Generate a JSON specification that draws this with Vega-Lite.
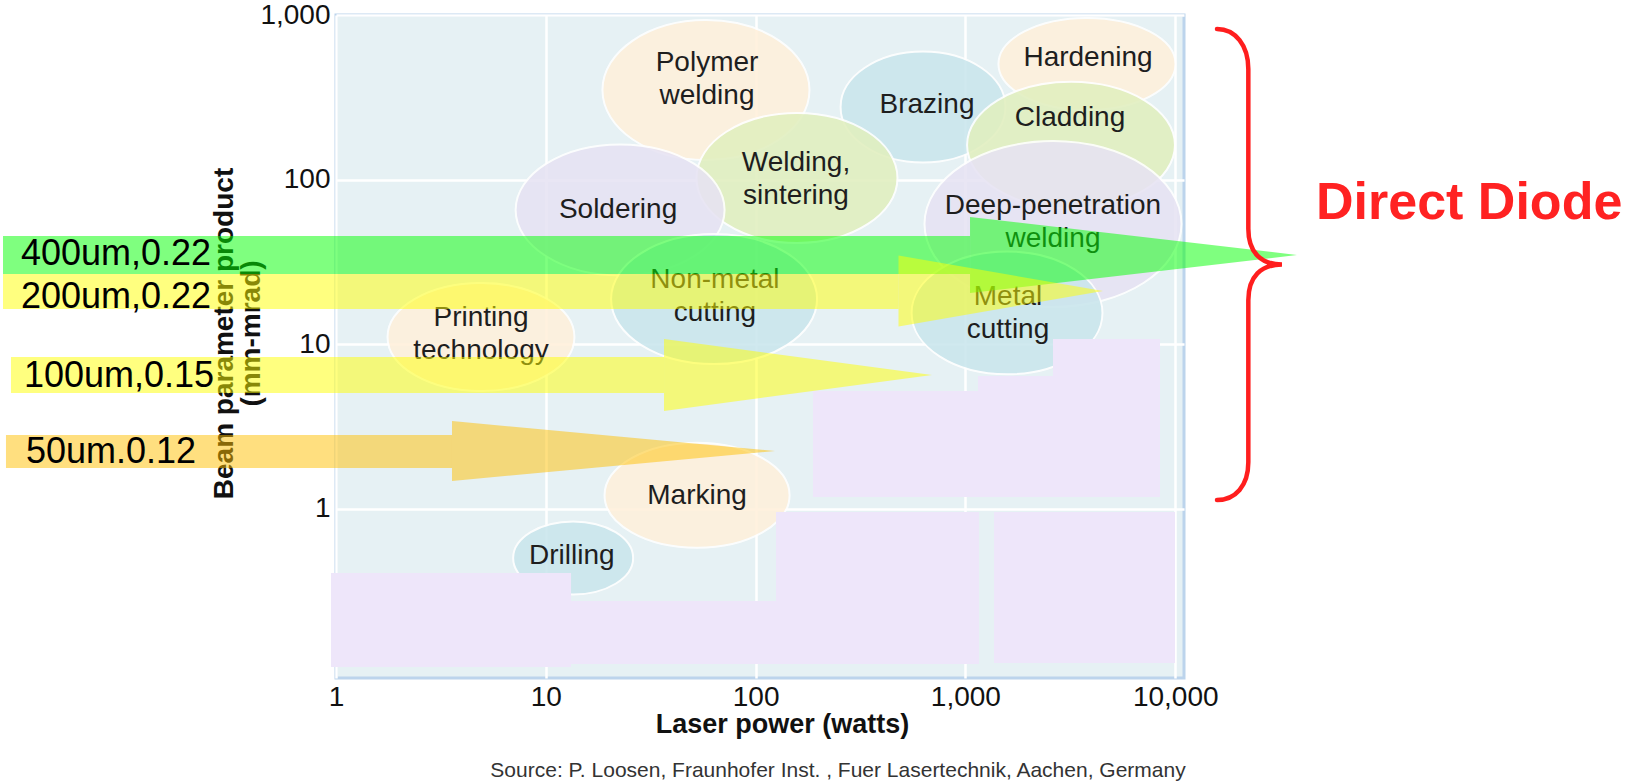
{
  "$schema": "https://vega.github.io/schema/vega-lite/v6.json",
  "width": 848,
  "height": 663,
  "autosize": {"type": "none"},
  "padding": {"left": 336, "top": 15, "right": 449, "bottom": 106},
  "background": "white",
  "config": {
    "font": "Liberation Sans",
    "view": {"fill": "#e6f1f4", "stroke": "#bcd4ec", "strokeWidth": 3},
    "axis": {
      "grid": true, "gridColor": "#ffffff", "gridWidth": 2.5, "gridOpacity": 1,
      "ticks": false, "domain": false,
      "labelFont": "Liberation Sans", "labelFontSize": 28, "labelColor": "#111111",
      "titleFont": "Liberation Sans", "titleColor": "#111111",
      "labelOverlap": false, "labelFlush": false
    }
  },
  "title": {
    "text": "Source: P. Loosen, Fraunhofer Inst. , Fuer Lasertechnik, Aachen, Germany",
    "orient": "bottom", "anchor": "middle", "dx": 78, "offset": 23,
    "fontSize": 21, "fontWeight": "normal", "color": "#333333", "font": "Liberation Sans"
  },
  "resolve": {"scale": {"color": "independent", "fill": "independent", "shape": "independent"}},
  "datasets": {
    "regions": [
      {"app": "Polymer welding", "tone": "peach", "power": 58.0, "bpp": 350, "span": 0.987},
      {"app": "Brazing", "tone": "blue", "power": 628, "bpp": 276, "span": 0.786},
      {"app": "Hardening", "tone": "peach", "power": 3798, "bpp": 504, "span": 0.844},
      {"app": "Cladding", "tone": "green", "power": 3187, "bpp": 162, "span": 0.991},
      {"app": "Welding, sintering", "tone": "green", "power": 157.5, "bpp": 102.3, "span": 0.958},
      {"app": "Soldering", "tone": "lavender", "power": 22.6, "bpp": 65.4, "span": 0.996},
      {"app": "Deep-penetration welding", "tone": "lavender", "power": 2615, "bpp": 53.7, "span": 1.225},
      {"app": "Non-metal cutting", "tone": "blue", "power": 63.4, "bpp": 18.8, "span": 0.982},
      {"app": "Metal cutting", "tone": "blue", "power": 1579, "bpp": 15.5, "span": 0.910},
      {"app": "Printing technology", "tone": "peach", "power": 4.91, "bpp": 11.06, "span": 0.891},
      {"app": "Marking", "tone": "peach", "power": 52.6, "bpp": 1.21, "span": 0.882},
      {"app": "Drilling", "tone": "blue", "power": 13.5, "bpp": 0.503, "span": 0.572}
    ],
    "regionLabels": [
      {"label": "Polymer\nwelding", "power": 58.66, "bpp": 510.9},
      {"label": "Brazing", "power": 656, "bpp": 282},
      {"label": "Hardening", "power": 3841, "bpp": 548},
      {"label": "Cladding", "power": 3152, "bpp": 237},
      {"label": "Welding,\nsintering", "power": 155.8, "bpp": 126.2},
      {"label": "Soldering", "power": 22.1, "bpp": 65.5},
      {"label": "Deep-penetration\nwelding", "power": 2615, "bpp": 69.6},
      {"label": "Non-metal\ncutting", "power": 64.0, "bpp": 24.55},
      {"label": "Metal\ncutting", "power": 1596, "bpp": 19.35},
      {"label": "Printing\ntechnology", "power": 4.91, "bpp": 14.53},
      {"label": "Marking", "power": 52.6, "bpp": 1.19},
      {"label": "Drilling", "power": 13.3, "bpp": 0.517}
    ],
    "boxes": [
      {"power": 2615, "power2": 8463, "bpp": 6.41, "bpp2": 10.76},
      {"power": 1148, "power2": 8463, "bpp": 5.20, "bpp2": 6.41},
      {"power": 187.7, "power2": 8463, "bpp": 1.18, "bpp2": 5.20},
      {"power": 0.947, "power2": 13.19, "bpp": 0.1094, "bpp2": 0.407},
      {"power": 13.19, "power2": 1161, "bpp": 0.114, "bpp2": 0.2754},
      {"power": 125.1, "power2": 1161, "bpp": 0.1156, "bpp2": 0.956},
      {"power": 1369, "power2": 9980, "bpp": 0.1156, "bpp2": 0.956}
    ],
    "shafts": [
      {"arrow": "400um", "power": 0.02587, "power2": 1051.7, "bpp": 45.42, "bpp2": 26.70},
      {"arrow": "200um", "power": 0.02587, "power2": 479.8, "bpp": 26.70, "bpp2": 16.37},
      {"arrow": "100um", "power": 0.02824, "power2": 36.60, "bpp": 8.36, "bpp2": 5.05},
      {"arrow": "50um", "power": 0.02673, "power2": 3.572, "bpp": 2.808, "bpp2": 1.770}
    ],
    "heads": [
      {"arrow": "400um", "power": 6329, "bpp": 34.83, "span": 1.5586},
      {"arrow": "200um", "power": 1474, "bpp": 21.05, "span": 0.9747},
      {"arrow": "100um", "power": 159.3, "bpp": 6.50, "span": 1.2774},
      {"arrow": "50um", "power": 21.02, "bpp": 2.245, "span": 1.5395}
    ],
    "arrowLabels": [
      {"label": "400um,0.22", "power": 0.03151, "bpp": 30.28},
      {"label": "200um,0.22", "power": 0.03151, "bpp": 16.60},
      {"label": "100um,0.15", "power": 0.03257, "bpp": 5.495},
      {"label": "50um.0.12", "power": 0.03330, "bpp": 1.898}
    ]
  },
  "encoding": {
    "x": {
      "field": "power", "type": "quantitative",
      "scale": {"type": "log", "domain": [1, 11013], "nice": false},
      "axis": {
        "values": [1, 10, 100, 1000, 10000], "format": ",", "labelPadding": 5,
        "title": "Laser power (watts)", "titleFontSize": 27, "titleFontWeight": "bold",
        "titleX": 446, "titleY": 54, "titleBaseline": "alphabetic"
      }
    },
    "y": {
      "field": "bpp", "type": "quantitative",
      "scale": {"type": "log", "domain": [0.0938, 1000], "nice": false},
      "axis": {
        "values": [1, 10, 100, 1000], "format": ",", "labelPadding": 6,
        "title": ["Beam parameter product", "(mm-mrad)"], "titleFontSize": 28, "titleFontWeight": "bold",
        "titleX": -104, "titleY": 318, "titleBaseline": "alphabetic", "titleLineHeight": 27,
        "titleAngle": -90, "titleAlign": "center"
      }
    }
  },
  "layer": [
    {
      "data": {"name": "regions"},
      "mark": {"type": "point", "filled": true, "opacity": 0.88, "stroke": "#ffffff", "strokeWidth": 2},
      "encoding": {
        "shape": {
          "field": "app", "type": "nominal", "legend": null,
          "scale": {
            "domain": ["Polymer welding", "Brazing", "Hardening", "Cladding", "Welding, sintering", "Soldering", "Deep-penetration welding", "Non-metal cutting", "Metal cutting", "Printing technology", "Marking", "Drilling"],
            "range": [
              "M-1,0C-1,-0.373 -0.552,-0.676 0,-0.676C0.552,-0.676 1,-0.373 1,0C1,0.373 0.552,0.676 0,0.676C-0.552,0.676 -1,0.373 -1,0Z",
              "M-1,0C-1,-0.372 -0.552,-0.673 0,-0.673C0.552,-0.673 1,-0.372 1,0C1,0.372 0.552,0.673 0,0.673C-0.552,0.673 -1,0.372 -1,0Z",
              "M-1,0C-1,-0.287 -0.552,-0.52 0,-0.52C0.552,-0.52 1,-0.287 1,0C1,0.287 0.552,0.52 0,0.52C-0.552,0.52 -1,0.287 -1,0Z",
              "M-1,0C-1,-0.337 -0.552,-0.61 0,-0.61C0.552,-0.61 1,-0.337 1,0C1,0.337 0.552,0.61 0,0.61C-0.552,0.61 -1,0.337 -1,0Z",
              "M-1,0C-1,-0.357 -0.552,-0.647 0,-0.647C0.552,-0.647 1,-0.357 1,0C1,0.357 0.552,0.647 0,0.647C-0.552,0.647 -1,0.357 -1,0Z",
              "M-1,0C-1,-0.346 -0.552,-0.627 0,-0.627C0.552,-0.627 1,-0.346 1,0C1,0.346 0.552,0.627 0,0.627C-0.552,0.627 -1,0.346 -1,0Z",
              "M-1,0C-1,-0.357 -0.552,-0.646 0,-0.646C0.552,-0.646 1,-0.357 1,0C1,0.357 0.552,0.646 0,0.646C-0.552,0.646 -1,0.357 -1,0Z",
              "M-1,0C-1,-0.349 -0.552,-0.631 0,-0.631C0.552,-0.631 1,-0.349 1,0C1,0.349 0.552,0.631 0,0.631C-0.552,0.631 -1,0.349 -1,0Z",
              "M-1,0C-1,-0.356 -0.552,-0.644 0,-0.644C0.552,-0.644 1,-0.356 1,0C1,0.356 0.552,0.644 0,0.644C-0.552,0.644 -1,0.356 -1,0Z",
              "M-1,0C-1,-0.319 -0.552,-0.578 0,-0.578C0.552,-0.578 1,-0.319 1,0C1,0.319 0.552,0.578 0,0.578C-0.552,0.578 -1,0.319 -1,0Z",
              "M-1,0C-1,-0.314 -0.552,-0.568 0,-0.568C0.552,-0.568 1,-0.314 1,0C1,0.314 0.552,0.568 0,0.568C-0.552,0.568 -1,0.314 -1,0Z",
              "M-1,0C-1,-0.336 -0.552,-0.608 0,-0.608C0.552,-0.608 1,-0.336 1,0C1,0.336 0.552,0.608 0,0.608C-0.552,0.608 -1,0.336 -1,0Z"
            ]
          }
        },
        "size": {
          "field": "span", "type": "quantitative", "legend": null,
          "scale": {"type": "pow", "exponent": 2, "domain": [0, 2], "range": [0, 176064]}
        },
        "fill": {
          "field": "tone", "type": "nominal", "legend": null,
          "scale": {"domain": ["peach", "blue", "green", "lavender"], "range": ["#fff0db", "#cae6ed", "#e1efbf", "#e7e3f3"]}
        }
      }
    },
    {
      "data": {"name": "regionLabels"},
      "mark": {"type": "text", "fontSize": 28, "color": "#1e1e1e", "lineBreak": "\n", "lineHeight": 33, "baseline": "middle", "align": "center"},
      "encoding": {"text": {"field": "label", "type": "nominal"}}
    },
    {
      "data": {"name": "boxes"},
      "mark": {"type": "rect", "color": "#eee6fa"},
      "encoding": {"x2": {"field": "power2"}, "y2": {"field": "bpp2"}}
    },
    {
      "data": {"name": "shafts"},
      "mark": {"type": "rect", "opacity": 0.5},
      "encoding": {
        "x2": {"field": "power2"},
        "y2": {"field": "bpp2"},
        "color": {
          "field": "arrow", "type": "nominal", "legend": null,
          "scale": {"domain": ["400um", "200um", "100um", "50um"], "range": ["#00ff00", "#ffff00", "#ffff00", "#ffc000"]}
        }
      }
    },
    {
      "data": {"name": "heads"},
      "mark": {"type": "point", "filled": true, "opacity": 0.5, "strokeWidth": 0},
      "encoding": {
        "shape": {
          "field": "arrow", "type": "nominal", "legend": null,
          "scale": {
            "domain": ["400um", "200um", "100um", "50um"],
            "range": ["M-1,-0.2324L1,0L-1,0.2324Z", "M-1,-0.3472L1,0L-1,0.3472Z", "M-1,-0.2687L1,0L-1,0.2687Z", "M-1,-0.1858L1,0L-1,0.1858Z"]
          }
        },
        "size": {
          "field": "span", "type": "quantitative", "legend": null,
          "scale": {"type": "pow", "exponent": 2, "domain": [0, 2], "range": [0, 176064]}
        },
        "color": {
          "field": "arrow", "type": "nominal", "legend": null,
          "scale": {"domain": ["400um", "200um", "100um", "50um"], "range": ["#00ff00", "#ffff00", "#ffff00", "#ffc000"]}
        }
      }
    },
    {
      "data": {"name": "arrowLabels"},
      "mark": {"type": "text", "fontSize": 36, "color": "#000000", "align": "left", "baseline": "alphabetic"},
      "encoding": {"text": {"field": "label", "type": "nominal"}}
    },
    {
      "data": {"values": [{"power": 22600, "bpp": 30.5}]},
      "mark": {
        "type": "point", "filled": false, "opacity": 1, "stroke": "#ff1e1e", "strokeWidth": 4.5, "strokeCap": "round",
        "size": 221841,
        "shape": "M-0.138,-1C-0.06,-1 -0.005,-0.93 -0.005,-0.83L-0.005,-0.152C-0.005,-0.05 0.05,0 0.138,0C0.05,0 -0.005,0.05 -0.005,0.152L-0.005,0.84C-0.005,0.94 -0.06,1 -0.138,1"
      }
    },
    {
      "data": {"values": [{"label": "Direct Diode", "power": 46900, "bpp": 57.6}]},
      "mark": {"type": "text", "fontSize": 52, "fontWeight": "bold", "color": "#ff2222", "align": "left", "baseline": "alphabetic"},
      "encoding": {"text": {"field": "label", "type": "nominal"}}
    }
  ]
}
